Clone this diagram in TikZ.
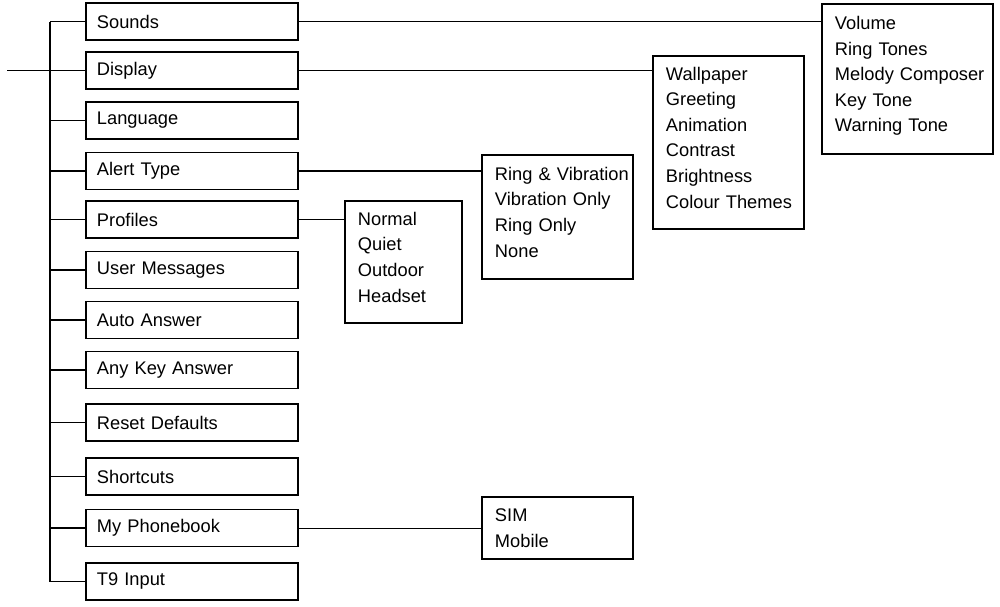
\documentclass[tikz,border=0pt]{standalone}
\usepackage{fontspec}
\setmainfont{Liberation Sans}
\usepackage{tikz}
\usetikzlibrary{positioning,calc}

\newcommand\listindent{\leftskip=0.325cm\relax\hyphenpenalty=10000\relax}
\newcommand\listfoot{\rule[-0.25cm]{0pt}{0pt}}

\tikzset{
  menubox/.style={draw, line width=1.4pt, minimum width=5.3cm, minimum height=0.925cm,
    inner xsep=0.275cm, inner ysep=0pt, text width=4.75cm, align=left,
    font=\fontsize{13}{18.2}\selectfont},
  listbox/.style={draw, line width=1.4pt, inner xsep=0pt, inner ysep=0pt, align=left,
    font=\fontsize{13}{18.2}\selectfont, execute at begin node=\listindent},
  raised/.style={execute at end node=\listfoot},
  link/.style={line width=1.4pt},
  thinlink/.style={line width=0.6pt}
}

\begin{document}
\begin{tikzpicture}[x=0.025cm, y=-0.025cm]
  \useasboundingbox (0,0) rectangle (1000,606);

  % Main menu
  \foreach \nm/\y/\lab in {sounds/21.5/Sounds, display/70.5/Display, language/120.5/Language,
      alert/171/Alert Type, profiles/219.5/Profiles, usermsg/270/User Messages,
      autoans/320/Auto Answer, anykey/370/Any Key Answer, reset/422.5/Reset Defaults,
      shortcuts/476.5/Shortcuts, phonebook/528/My Phonebook, tnine/581.5/T9 Input} {
    \node[menubox] (\nm) at (192,\y) {\lab};
  }

  % Sub menus
  \node[listbox, raised, minimum height=3.75cm, text width=4.275cm] (soundlist) at (907.5,79)
    {Volume\\Ring Tones\\Melody Composer\\Key Tone\\Warning Tone};
  \node[listbox, raised, minimum height=4.325cm, text width=3.775cm] (displaylist) at (728.5,142.5)
    {Wallpaper\\Greeting\\Animation\\Contrast\\Brightness\\Colour Themes};
  \node[listbox, raised, minimum height=3.1cm, text width=3.775cm] (alertlist) at (557.5,217)
    {Ring \& Vibration\\Vibration Only\\Ring Only\\None};
  \node[listbox, raised, minimum height=3.05cm, text width=2.925cm] (profilelist) at (403.5,262)
    {Normal\\Quiet\\Outdoor\\Headset};
  \node[listbox, minimum height=1.55cm, text width=3.775cm] (booklist) at (557.5,528)
    {SIM\\Mobile};

  % Trunk
  \coordinate (trunk) at (50,0);
  \coordinate (entry) at (7,70.5);
  \draw[link] (sounds.west -| trunk) -- (tnine.west -| trunk);
  \draw[link] (entry) -- (display.west -| trunk);
  \foreach \nm in {sounds, display, language, alert, profiles, usermsg, autoans,
      anykey, reset, shortcuts, phonebook, tnine} {
    \draw[link] (\nm.west -| trunk) -- (\nm.west);
  }

  % Links to sub menus
  \draw[link] (sounds.east) -- (sounds.east -| soundlist.west);
  \draw[link] (display.east) -- (display.east -| displaylist.west);
  \draw[link] (alert.east) -- (alert.east -| alertlist.west);
  \draw[link] (profiles.east) -- (profiles.east -| profilelist.west);
  \draw[thinlink] (phonebook.east) -- (phonebook.east -| booklist.west);

\end{tikzpicture}
\end{document}
